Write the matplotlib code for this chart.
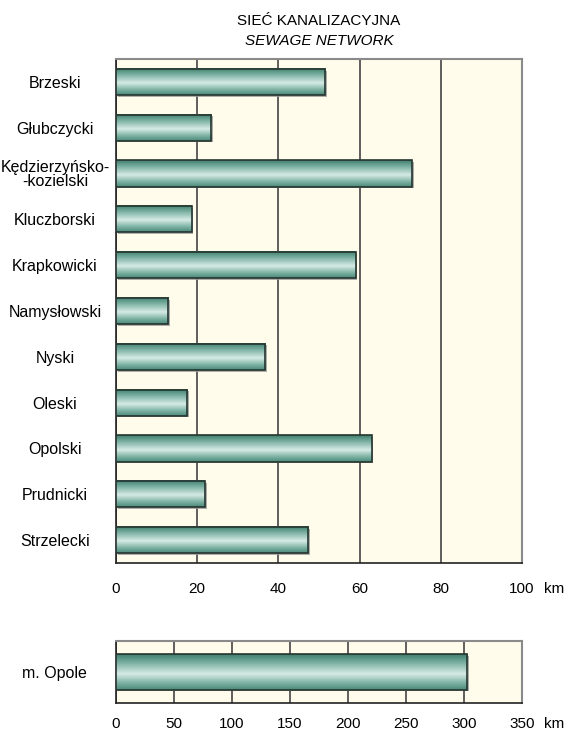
import numpy as np
import matplotlib
matplotlib.use('Agg')
import matplotlib.pyplot as plt
from matplotlib.colors import LinearSegmentedColormap
import matplotlib.patheffects as pe

plt.rcParams['font.family'] = ['Liberation Sans Narrow', 'Liberation Sans', 'DejaVu Sans']
plt.rcParams['font.size'] = 11

# Data (km)
powiaty = ['Brzeski', 'Głubczycki', 'Kędzierzyńsko-\n-kozielski', 'Kluczborski',
           'Krapkowicki', 'Namysłowski', 'Nyski', 'Oleski', 'Opolski',
           'Prudnicki', 'Strzelecki']
siec = [51.6, 23.5, 72.9, 18.6, 59.0, 12.9, 36.8, 17.6, 63.0, 21.9, 47.4]
miasto = ['m. Opole']
siec_miasto = [302.6]
ticks_top = [0, 20, 40, 60, 80, 100]
ticks_bottom = [0, 50, 100, 150, 200, 250, 300, 350]

bg = '#fffcec'
grad = LinearSegmentedColormap.from_list(
    'tube', [(0.0, '#3f7f6d'), (0.25, '#7fb3a4'), (0.55, '#d6ebe5'),
             (0.8, '#80b4a5'), (1.0, '#4a8a79')])
g = np.linspace(0, 1, 64).reshape(-1, 1)


def tube_bars(ax, labels, vals):
    y = np.arange(len(vals))
    # shadow behind the tube
    sh = ax.barh(y, vals, height=0.57, color='none', linewidth=0, zorder=2.5)
    for b in sh:
        b.set_path_effects([pe.SimplePatchShadow(offset=(1.2, -1.2),
                                                 shadow_rgbFace='#999999', alpha=0.8)])
    bars = ax.barh(y, vals, height=0.57, facecolor='none', edgecolor='#26342f',
                   linewidth=1.2, zorder=4)
    for b in bars:
        x0, y0 = b.get_x(), b.get_y()
        x1, y1 = x0 + b.get_width(), y0 + b.get_height()
        ax.imshow(g, cmap=grad, aspect='auto', extent=(x0, x1, y1, y0),
                  zorder=3, interpolation='bilinear')
    ax.set_yticks(y)
    ax.set_yticklabels(labels, ha='center', linespacing=0.95, fontsize=11.5)
    ax.set_ylim(len(vals) - 0.5, -0.5)


def style(ax, ticks, pad_x):
    ax.set_facecolor(bg)
    ax.set_xlim(ticks[0], ticks[-1])
    ax.set_xticks(ticks)
    ax.tick_params(axis='both', length=0)
    ax.tick_params(axis='x', pad=pad_x)
    ax.tick_params(axis='y', pad=44)
    ax.grid(axis='x', color='#444444', linewidth=1.2, zorder=1)
    ax.set_axisbelow(True)
    for s in ['top', 'right']:
        ax.spines[s].set_color('#8a8a8a')
        ax.spines[s].set_linewidth(1.5)
    for s in ['left', 'bottom']:
        ax.spines[s].set_color('#222222')
        ax.spines[s].set_linewidth(1.2)
    ax.annotate('km', xy=(1, 0), xycoords='axes fraction',
                xytext=(16, -pad_x), textcoords='offset points',
                ha='left', va='top')


fig = plt.figure(figsize=(5.67, 7.31), dpi=100)
W, H = 567, 731
ax1 = fig.add_axes([116 / W, 1 - 563 / H, 406 / W, 504 / H])
ax2 = fig.add_axes([116 / W, 1 - 703 / H, 406 / W, 62 / H])

tube_bars(ax1, powiaty, siec)
style(ax1, ticks_top, 13.5)
tube_bars(ax2, miasto, siec_miasto)
ax2.set_ylim(0.5, -0.5)
style(ax2, ticks_bottom, 10)

fig.text(319 / W, 1 - 21 / H, 'SIEĆ KANALIZACYJNA', ha='center', va='center')
fig.text(319 / W, 1 - 41 / H, 'SEWAGE NETWORK', ha='center', va='center',
         style='italic')

fig.savefig('out.png', dpi=100, facecolor='white')
